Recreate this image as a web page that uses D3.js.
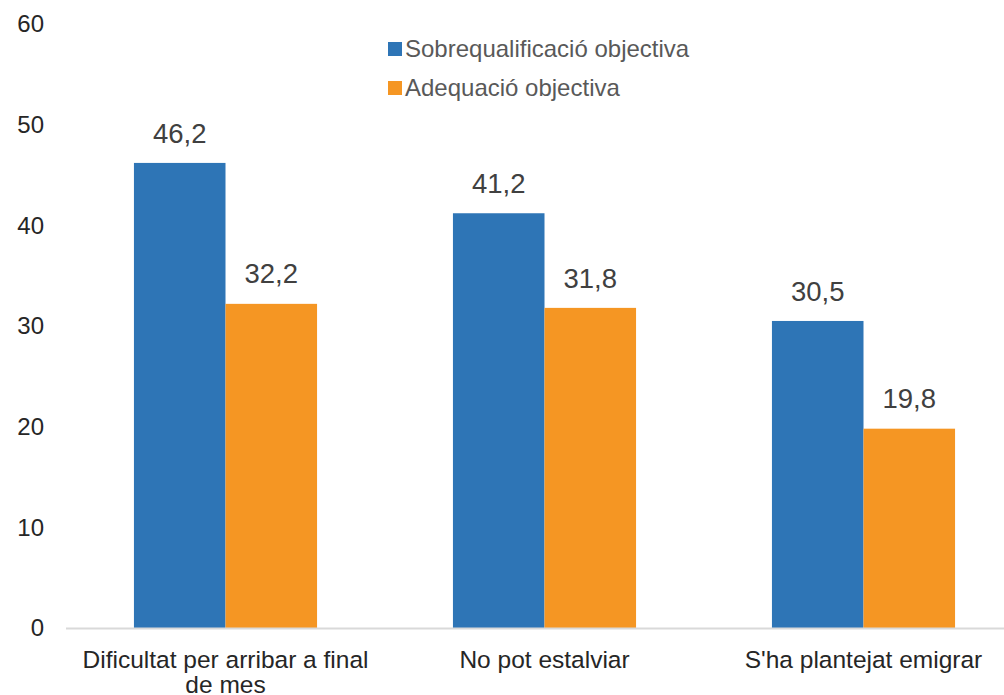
<!DOCTYPE html>
<html>
<head>
<meta charset="utf-8">
<script src="https://cdn.jsdelivr.net/npm/d3@7"></script>
<style>
  body { margin: 0; background: #fff; }
  svg { display: block; font-family: "Liberation Sans", Arial, sans-serif; }
</style>
</head>
<body>
<svg id="chart"></svg>
<script>
const WIDTH = 1004;
const HEIGHT = 695;

const categories = ["Dificultat per arribar a final de mes", "No pot estalviar", "S'ha plantejat emigrar"];
const seriesNames = ["Sobrequalificació objectiva", "Adequació objectiva"];
const sobrequalificacio = [46.2, 41.2, 30.5];
const adequacio = [32.2, 31.8, 19.8];
const yTicks = [0, 10, 20, 30, 40, 50, 60];

const colors = ["#2E75B6", "#F59623"];
const fmt = d => d.toFixed(1).replace(".", ",");

const svg = d3.select("#chart").attr("width", WIDTH).attr("height", HEIGHT);

const y = d3.scaleLinear().domain([0, 60]).range([628, 24]);
const x = d3.scaleBand().domain(categories).range([66, 1023]).paddingInner(0.426).paddingOuter(0.213);
const xs = d3.scaleBand().domain(seriesNames).range([0, x.bandwidth()]);

// y axis labels only
const yAxis = svg.append("g")
  .attr("transform", "translate(44,0)")
  .call(d3.axisLeft(y).tickValues(yTicks).tickSize(0).tickPadding(0));
yAxis.select(".domain").remove();
yAxis.selectAll("text")
  .attr("font-size", 24)
  .attr("fill", "#262626")
  .attr("font-family", "Liberation Sans, Arial, sans-serif");

// bars
const rows = categories.map((c, i) => ({ cat: c, vals: [sobrequalificacio[i], adequacio[i]] }));

const grp = svg.append("g").selectAll("g")
  .data(rows)
  .join("g")
  .attr("transform", d => `translate(${x(d.cat)},0)`);

grp.selectAll("rect")
  .data(d => d.vals.map((v, j) => ({ name: seriesNames[j], v, j })))
  .join("rect")
  .attr("x", d => xs(d.name))
  .attr("width", xs.bandwidth())
  .attr("y", d => y(d.v))
  .attr("height", d => y(0) - y(d.v))
  .attr("fill", d => colors[d.j]);

grp.selectAll("text.val")
  .data(d => d.vals.map((v, j) => ({ name: seriesNames[j], v, j })))
  .join("text")
  .attr("class", "val")
  .attr("x", d => xs(d.name) + xs.bandwidth() / 2)
  .attr("y", d => y(d.v) - 30)
  .attr("dy", "0.35em")
  .attr("text-anchor", "middle")
  .attr("font-size", 27.5)
  .attr("fill", "#404040")
  .text(d => fmt(d.v));

// baseline
svg.append("line")
  .attr("x1", 66).attr("x2", WIDTH)
  .attr("y1", y(0) + 0.5).attr("y2", y(0) + 0.5)
  .attr("stroke", "#D9D9D9").attr("stroke-width", 2);

// category labels (wrapped)
const xAxis = svg.append("g")
  .attr("transform", `translate(0,${y(0)})`)
  .call(d3.axisBottom(x).tickSize(0).tickPadding(0));
xAxis.select(".domain").remove();
xAxis.selectAll("text")
  .attr("font-size", 24.5)
  .attr("fill", "#262626")
  .attr("font-family", "Liberation Sans, Arial, sans-serif")
  .attr("dy", null)
  .attr("y", 40)
  .each(function() { wrap(d3.select(this), 300); });

function wrap(text, width) {
  const words = text.text().split(/\s+/);
  text.text(null);
  let line = [];
  let tspan = text.append("tspan").attr("x", 0).attr("dy", 0);
  for (const w of words) {
    line.push(w);
    tspan.text(line.join(" "));
    if (tspan.node().getComputedTextLength() > width && line.length > 1) {
      line.pop();
      tspan.text(line.join(" "));
      line = [w];
      tspan = text.append("tspan").attr("x", 0).attr("dy", 25).text(w);
    }
  }
}

// legend
const legend = svg.append("g").attr("transform", "translate(388,49)");
const li = legend.selectAll("g")
  .data(seriesNames)
  .join("g")
  .attr("transform", (d, i) => `translate(0,${i * 39})`);
li.append("rect")
  .attr("x", 0).attr("y", -7)
  .attr("width", 14).attr("height", 14)
  .attr("fill", (d, i) => colors[i]);
li.append("text")
  .attr("x", 17).attr("y", 0)
  .attr("dy", "0.35em")
  .attr("font-size", 24)
  .attr("fill", "#595959")
  .text(d => d);
</script>
</body>
</html>
